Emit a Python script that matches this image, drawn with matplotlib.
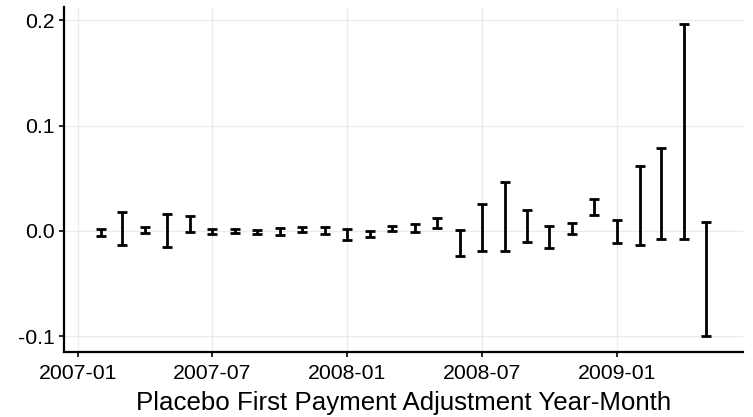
import matplotlib
matplotlib.use("Agg")
import matplotlib.pyplot as plt
import matplotlib.dates as mdates
import numpy as np
import pandas as pd

plt.rcParams['font.family'] = ['Liberation Sans', 'DejaVu Sans']

months = pd.date_range("2007-02-01", "2009-05-01", freq="MS")
upper = [0.002, 0.018, 0.0035, 0.016, 0.0145, 0.002, 0.002, 0.001, 0.0025, 0.004,
         0.004, 0.0015, -0.0005, 0.005, 0.0065, 0.012, 0.001, 0.0254, 0.0468, 0.020,
         0.005, 0.007, 0.0305, 0.0105, 0.062, 0.079, 0.1966, 0.0088]
lower = [-0.005, -0.013, -0.002, -0.015, -0.0015, -0.003, -0.002, -0.003, -0.0035, -0.001,
         -0.003, -0.0085, -0.0055, -0.0005, -0.0015, 0.003, -0.0237, -0.0187, -0.019, -0.011,
         -0.0165, -0.003, 0.015, -0.0117, -0.0136, -0.008, -0.0073, -0.0994]

upper = np.array(upper)
lower = np.array(lower)
mid = (upper + lower) / 2

fig = plt.figure(figsize=(7.53, 4.17), dpi=100)
ax = fig.add_axes([0.0854, 0.1566, 0.9009, 0.8259])

ax.errorbar(months, mid, yerr=[mid - lower, upper - mid], fmt='none',
            ecolor='black', elinewidth=2, capsize=3.6, capthick=2, zorder=3)

ax.set_xlim(pd.Timestamp("2006-12-13"), pd.Timestamp("2009-06-20"))
ax.set_ylim(-0.1147, 0.2122)

ax.xaxis.set_major_locator(mdates.MonthLocator(bymonth=[1, 7]))
ax.xaxis.set_major_formatter(mdates.DateFormatter("%Y-%m"))
ax.set_yticks([-0.1, 0.0, 0.1, 0.2])
ax.set_yticklabels(["-0.1", "0.0", "0.1", "0.2"])

ax.grid(True, color='#EBEBEB', linewidth=1, zorder=0)
ax.set_axisbelow(True)
for s in ['top', 'right']:
    ax.spines[s].set_visible(False)
for s in ['left', 'bottom']:
    ax.spines[s].set_linewidth(1.6)
    ax.spines[s].set_color('black')

ax.tick_params(axis='y', length=3.6, width=1.2, color='black',
               labelsize=15.3, labelcolor='black', pad=3.5)
ax.tick_params(axis='x', length=3.6, width=1.2, color='black',
               labelsize=15.3, labelcolor='black', pad=5.5)
ax.set_xlabel("Placebo First Payment Adjustment Year-Month", fontsize=18.6, labelpad=5.5)

fig.savefig("out.png", dpi=100)
